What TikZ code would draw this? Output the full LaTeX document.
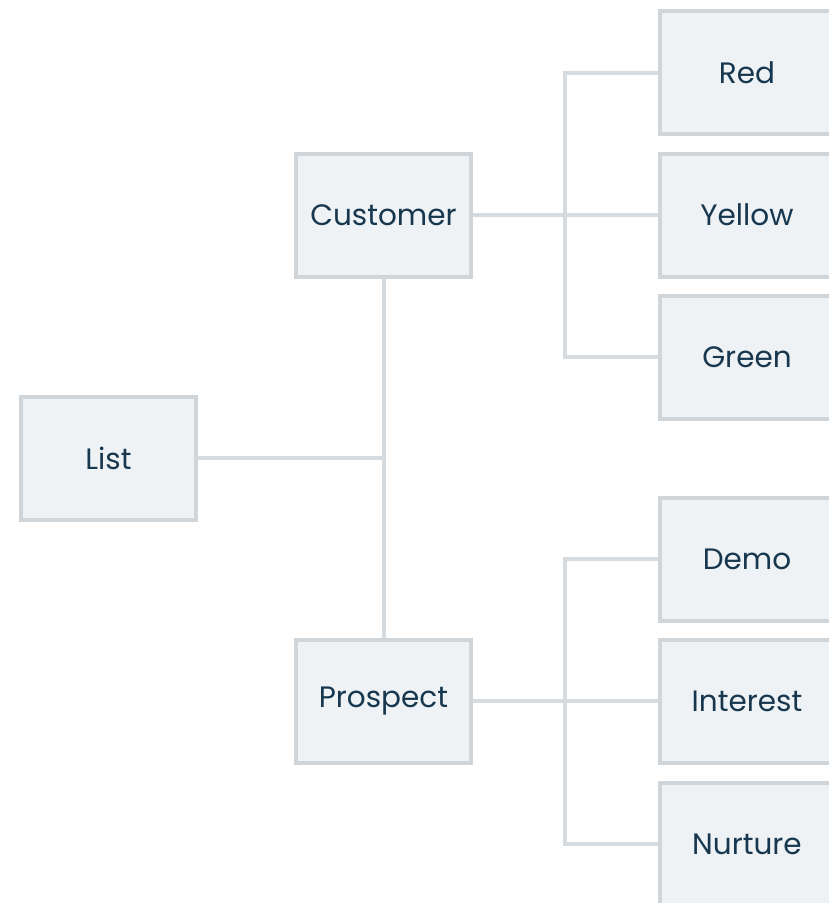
\documentclass[tikz,border=0pt]{standalone}
\usepackage{fontspec}
\setmainfont{Poppins}
\definecolor{boxfill}{HTML}{EEF2F5}
\definecolor{boxline}{HTML}{D0D5DA}
\definecolor{conn}{HTML}{D5DBDF}
\definecolor{txt}{HTML}{17374F}
\begin{document}
\begin{tikzpicture}[x=1pt,y=-1pt,
  box/.style={draw=boxline,line width=4pt,fill=boxfill,minimum width=175pt,minimum height=123pt,inner sep=0pt,text=txt,font=\fontsize{29.5}{34}\selectfont},
  link/.style={draw=conn,line width=4pt}]
\useasboundingbox (0,0) rectangle (829,903);
\coordinate (jl) at (386,458);
\node[box] (list) at (108.5,458) {List};
\node[box] (cust) at (383.5,215) {Customer};
\node[box] (pros) at (383.5,701) {Prospect};
\node[box] (red) at (747,72.5) {Red};
\node[box] (yellow) at (747,215) {Yellow};
\node[box] (green) at (747,357) {Green};
\node[box] (demo) at (747,559) {Demo};
\node[box] (interest) at (747,701) {Interest};
\node[box] (nurture) at (747,844) {Nurture};
\draw[link] (list.east) -- (jl);
\draw[link] (cust.south) -- (pros.north);
\draw[link] (cust.east) -- (yellow.west);
\draw[link] (red.west) -- (565,72.5) -- (565,357) -- (green.west);
\draw[link] (pros.east) -- (interest.west);
\draw[link] (demo.west) -- (565,559) -- (565,844) -- (nurture.west);
\end{tikzpicture}
\end{document}
